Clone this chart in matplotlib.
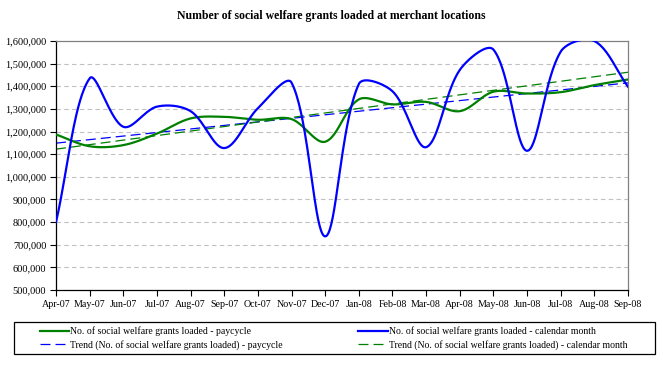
import numpy as np
import matplotlib
matplotlib.use("Agg")
import matplotlib.pyplot as plt
from matplotlib.ticker import FuncFormatter
from matplotlib.patches import Rectangle

months = ["Apr-07", "May-07", "Jun-07", "Jul-07", "Aug-07", "Sep-07", "Oct-07", "Nov-07",
          "Dec-07", "Jan-08", "Feb-08", "Mar-08", "Apr-08", "May-08", "Jun-08", "Jul-08",
          "Aug-08", "Sep-08"]
paycycle = [1187000, 1135000, 1140000, 1191000, 1258000, 1265000, 1252000, 1255000,
            1155000, 1342000, 1320000, 1331000, 1290000, 1376000, 1368000, 1374000,
            1405000, 1430000]
calendar = [800000, 1435000, 1221000, 1310000, 1290000, 1127000, 1303000, 1416000,
            737000, 1410000, 1378000, 1131000, 1472000, 1562000, 1115000, 1553000,
            1600000, 1398000]

title = "Number of social welfare grants loaded at merchant locations"
lbl_pay = "No. of social welfare grants loaded - paycycle"
lbl_cal = "No. of social welfare grants loaded - calendar month"
lbl_tpay = "Trend (No. of social welfare grants loaded) - paycycle"
lbl_tcal = "Trend (No. of social welfare grants loaded) - calendar month"

GREEN = "#008000"
BLUE = "#0000FF"
FONT = "Liberation Serif"

# pixel scale used only to measure chord lengths for the smoothing
XS = 33.6
YS = 22.6 / 100000.0


def smooth(xs, ys, n=40):
    xs = np.asarray(xs, float)
    ys = np.asarray(ys, float)
    px = np.concatenate([[xs[0]], xs, [xs[-1]]])
    py = np.concatenate([[ys[0]], ys, [ys[-1]]])

    def d(a, b):
        return np.hypot((px[a] - px[b]) * XS, (py[a] - py[b]) * YS)

    outx, outy = [], []
    t = np.linspace(0, 1, n)
    for i in range(1, len(px) - 2):
        d01, d12, d23 = d(i - 1, i), d(i, i + 1), d(i + 1, i + 2)
        f1 = d12 / (d01 + d12) / 3 if d01 + d12 > 0 else 0
        f2 = d12 / (d12 + d23) / 3 if d12 + d23 > 0 else 0
        c1x = px[i] + (px[i + 1] - px[i - 1]) * f1
        c1y = py[i] + (py[i + 1] - py[i - 1]) * f1
        c2x = px[i + 1] - (px[i + 2] - px[i]) * f2
        c2y = py[i + 1] - (py[i + 2] - py[i]) * f2
        p1x, p1y, p2x, p2y = px[i], py[i], px[i + 1], py[i + 1]
        bx = (1 - t) ** 3 * p1x + 3 * (1 - t) ** 2 * t * c1x + 3 * (1 - t) * t ** 2 * c2x + t ** 3 * p2x
        by = (1 - t) ** 3 * p1y + 3 * (1 - t) ** 2 * t * c1y + 3 * (1 - t) * t ** 2 * c2y + t ** 3 * p2y
        outx.extend(bx)
        outy.extend(by)
    return np.array(outx), np.array(outy)


fig = plt.figure(figsize=(6.63, 3.65), dpi=100)
ax = fig.add_axes([56 / 663, 1 - 290 / 365, (628 - 56) / 663, (290 - 41) / 365])

x = np.arange(len(months))

for v in range(600000, 1600000, 100000):
    ax.axhline(v, color="#c0c0c0", lw=0.8, ls=(0, (4, 3)), zorder=0)

sx, sy = smooth(x, paycycle)
l_pay, = ax.plot(sx, sy, color=GREEN, lw=1.6, label=lbl_pay, zorder=3)
sx, sy = smooth(x, calendar)
l_cal, = ax.plot(sx, sy, color=BLUE, lw=1.6, label=lbl_cal, zorder=4)

cp = np.polyfit(x, paycycle, 1)
cc = np.polyfit(x, calendar, 1)
l_tpay, = ax.plot(x, np.polyval(cp, x), color=BLUE, lw=0.9, ls=(0, (8, 4)), label=lbl_tpay, zorder=2)
l_tcal, = ax.plot(x, np.polyval(cc, x), color=GREEN, lw=0.9, ls=(0, (8, 4)), label=lbl_tcal, zorder=2)

ax.set_xlim(0, len(months) - 1)
ax.set_ylim(500000, 1600000)
ax.set_xticks(x)
ax.set_xticklabels(months, fontfamily=FONT, fontsize=7.2)
ax.set_yticks(range(500000, 1600001, 100000))
ax.yaxis.set_major_formatter(FuncFormatter(lambda v, p: f"{int(v):,}"))
for t in ax.get_yticklabels():
    t.set_fontfamily(FONT)
    t.set_fontsize(7.5)
ax.tick_params(axis="both", direction="out", length=4, width=0.8, color="black", pad=3)
ax.tick_params(axis="x", pad=3)

ax.spines["left"].set_color("black")
ax.spines["bottom"].set_color("black")
ax.spines["top"].set_color("#808080")
ax.spines["right"].set_color("#808080")
for s in ax.spines.values():
    s.set_linewidth(0.9)

fig.text(331 / 663, 1 - 16 / 365, title, ha="center", va="center",
         fontfamily=FONT, fontweight="bold", fontsize=8.5)

fig.patches.append(Rectangle((14 / 663, 1 - 354 / 365), (655 - 14) / 663, 32 / 365,
                             transform=fig.transFigure, fill=False, edgecolor="black",
                             lw=0.9, zorder=1))
leg = fig.legend(handles=[l_pay, l_tpay, l_cal, l_tcal], ncol=2, mode="expand",
                 loc="center", bbox_to_anchor=(40 / 663, 1 - 351 / 365, (627 - 40) / 663, 26 / 365),
                 prop={"family": FONT, "size": 7}, frameon=False,
                 handlelength=3.0, handletextpad=0.1,
                 borderpad=0.0, labelspacing=0.35, borderaxespad=0, columnspacing=1)

fig.savefig("out.png", dpi=100, facecolor="white")
